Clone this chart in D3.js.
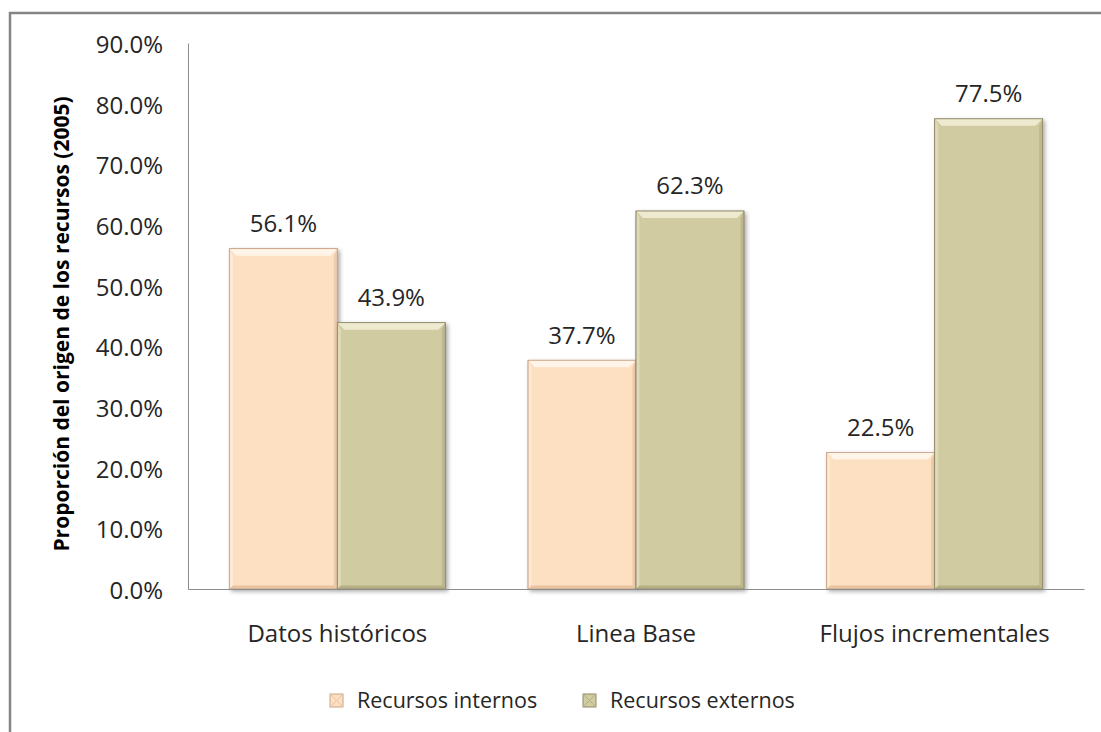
<!DOCTYPE html>
<html lang="es">
<head>
<meta charset="UTF-8" />
<title>Origen de los recursos</title>
<style>
  body { margin: 0; background: #fff; }
  svg text { font-family: "Open Sans", "Noto Sans", sans-serif; fill: #262626; }
</style>
</head>
<body>
<div class="chart"></div>
<script src="https://d3js.org/d3.v7.min.js"></script>
<script>
  // datos
  const categories = ['Datos históricos', 'Linea Base', 'Flujos incrementales']
  const seriesNames = ['Recursos internos', 'Recursos externos']
  const internos = [56.1, 37.7, 22.5]
  const externos = [43.9, 62.3, 77.5]
  const yTicks = [0, 10, 20, 30, 40, 50, 60, 70, 80, 90]

  const width = 1101, height = 732
  const mLeft = 188, mRight = 1084, mTop = 43, mBottom = 589

  const svg = d3.select('.chart').append('svg')
    .attr('width', width).attr('height', height)

  // marco exterior
  svg.append('path')
    .attr('d', `M10,${height} V13 H${width}`)
    .attr('fill', 'none').attr('stroke', '#858585').attr('stroke-width', 2.5)

  const colors = {
    'Recursos internos': { base: '#FDDFC1', light: '#FFF4E8', dark: '#E7C3A2', edge: '#C9A386' },
    'Recursos externos': { base: '#D1CBA2', light: '#EEEAD0', dark: '#B6AF86', edge: '#8F8967' }
  }

  const defs = svg.append('defs')
  const f = defs.append('filter').attr('id', 'shadow').attr('x', '-10%').attr('y', '-10%').attr('width', '130%').attr('height', '130%')
  f.append('feDropShadow').attr('dx', 2).attr('dy', 2).attr('stdDeviation', 2).attr('flood-color', '#000').attr('flood-opacity', 0.35)

  const x = d3.scaleBand().domain(categories).range([mLeft, mRight]).paddingInner(0.277).paddingOuter(0.1385)
  const xSub = d3.scaleBand().domain(seriesNames).range([0, x.bandwidth()])
  const y = d3.scaleLinear().domain([0, 90]).range([mBottom, mTop])

  // eje Y
  const yAxis = svg.append('g').attr('transform', `translate(${mLeft},0)`)
    .call(d3.axisLeft(y).tickValues(yTicks).tickSize(0).tickPadding(25).tickFormat(d => d.toFixed(1) + '%'))
  yAxis.select('.domain').attr('stroke', '#8c8c8c')
  yAxis.selectAll('text').style('font-size', '24px').attr('dy', '0.4em')

  svg.append('text')
    .attr('transform', `translate(69,324) rotate(-90)`)
    .attr('text-anchor', 'middle')
    .style('font-size', '21px').style('font-weight', 'bold').style('fill', '#000')
    .text('Proporción del origen de los recursos  (2005)')

  const rows = categories.map((c, i) => ({ cat: c, values: [
    { key: seriesNames[0], value: internos[i] },
    { key: seriesNames[1], value: externos[i] }
  ] }))

  const groups = svg.append('g').selectAll('g').data(rows).join('g')
    .attr('transform', d => `translate(${x(d.cat)},0)`)

  const bars = groups.selectAll('g').data(d => d.values).join('g')
    .attr('transform', d => `translate(${xSub(d.key)},${y(d.value)})`)

  const bev = 7
  bars.each(function (d) {
    const g = d3.select(this)
    const w = xSub.bandwidth(), h = mBottom - y(d.value)
    const c = colors[d.key]
    g.append('rect').attr('width', w).attr('height', h).attr('fill', c.base)
      .attr('stroke', c.edge).attr('stroke-width', 0.8).attr('filter', 'url(#shadow)')
    // bisel superior
    g.append('path').attr('d', `M0,0 H${w} L${w - bev},${bev} H${bev} Z`).attr('fill', c.light)
    // lado derecho
    g.append('path').attr('d', `M${w},0 V${h} L${w - bev / 2},${h - bev / 2} V${bev} Z`).attr('fill', c.dark).attr('opacity', 0.7)
    // lado izquierdo
    g.append('path').attr('d', `M0,0 V${h} L${bev / 2},${h - bev / 2} V${bev} Z`).attr('fill', c.light).attr('opacity', 0.5)
    // abajo
    g.append('path').attr('d', `M0,${h} H${w} L${w - bev / 2},${h - bev / 2} H${bev / 2} Z`).attr('fill', c.dark)
    g.append('rect').attr('width', w).attr('height', h).attr('fill', 'none')
      .attr('stroke', c.edge).attr('stroke-width', 0.8)
  })

  // etiquetas de valor
  groups.selectAll('text.val').data(d => d.values).join('text')
    .attr('class', 'val')
    .attr('x', d => xSub(d.key) + xSub.bandwidth() / 2)
    .attr('y', d => y(d.value) - 25)
    .attr('dy', '0.35em')
    .attr('text-anchor', 'middle')
    .style('font-size', '24px')
    .text(d => d.value.toFixed(1) + '%')

  // eje X
  const xAxis = svg.append('g').attr('transform', `translate(0,${mBottom})`)
    .call(d3.axisBottom(x).tickSize(0).tickPadding(45))
  xAxis.select('.domain').attr('stroke', '#8c8c8c')
  xAxis.selectAll('text').style('font-size', '24px').attr('dy', '0.35em')

  // leyenda
  const legendX = [330, 583]
  const legend = svg.append('g').selectAll('g').data(seriesNames).join('g')
    .attr('transform', (d, i) => `translate(${legendX[i]},700)`)
  legend.append('rect').attr('x', 0).attr('y', -6).attr('width', 13).attr('height', 13)
    .attr('fill', d => colors[d].base).attr('stroke', d => colors[d].edge).attr('stroke-width', 1)
  legend.append('path').attr('d', 'M0,-6 L6.5,0.5 L13,-6 M0,7 L6.5,0.5 L13,7')
    .attr('fill', 'none').attr('stroke', d => colors[d].dark).attr('stroke-width', 1)
  legend.append('text').attr('x', 27).attr('y', 0).attr('dy', '0.35em')
    .style('font-size', '21.5px').text(d => d)
</script>
</body>
</html>
